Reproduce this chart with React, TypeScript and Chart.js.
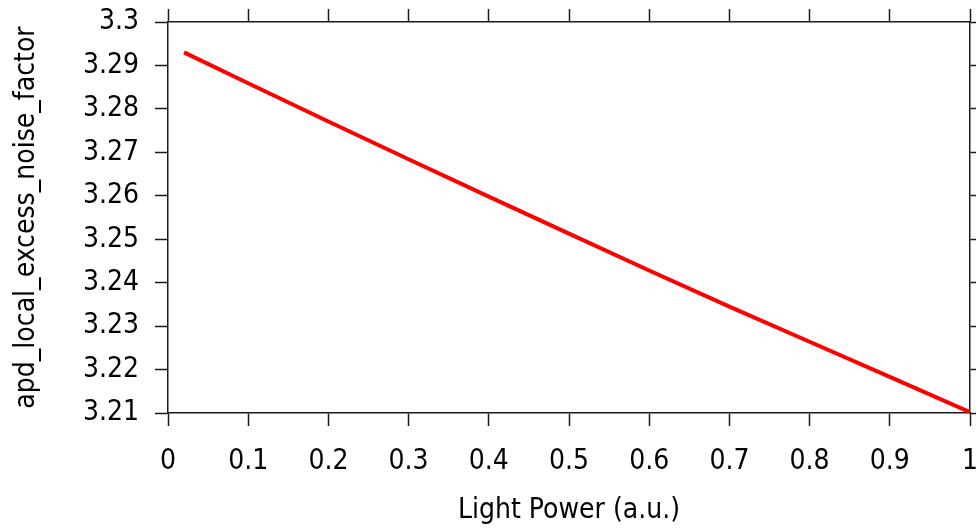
import React, { useEffect, useRef } from "react";
import { Chart, registerables } from "chart.js";

Chart.register(...registerables);

const lightPower = [0.02, 0.1, 0.2, 0.3, 0.4, 0.5, 0.6, 0.7, 0.8, 0.9, 1.0];
const noiseFactor = [3.293, 3.2859, 3.2771, 3.2684, 3.2598, 3.2513, 3.2428, 3.2345, 3.2264, 3.2183, 3.2102];

const xTickValues = [0, 0.1, 0.2, 0.3, 0.4, 0.5, 0.6, 0.7, 0.8, 0.9, 1];
const xTickLabels = ["0", "0.1", "0.2", "0.3", "0.4", "0.5", "0.6", "0.7", "0.8", "0.9", "1"];
const yTickValues = [3.21, 3.22, 3.23, 3.24, 3.25, 3.26, 3.27, 3.28, 3.29, 3.3];
const yTickLabels = ["3.21", "3.22", "3.23", "3.24", "3.25", "3.26", "3.27", "3.28", "3.29", "3.3"];

const xTitle = "Light Power (a.u.)";
const yTitle = "apd_local_excess_noise_factor";

const FONT_FAMILY = "'DejaVu Sans Condensed', 'DejaVu Sans', sans-serif";
const AXIS_COLOR = "#1a1a1a";

function labelFor(values: number[], labels: string[], v: number) {
  const i = values.findIndex((t) => Math.abs(t - v) < 1e-9);
  return i >= 0 ? labels[i] : "";
}

function noPad(s: any) {
  s.paddingLeft = 0;
  s.paddingRight = 0;
  s.paddingTop = 0;
  s.paddingBottom = 0;
}

export default function App() {
  const ref = useRef<HTMLCanvasElement | null>(null);

  useEffect(() => {
    document.body.style.margin = "0";
    const canvas = ref.current;
    if (!canvas) return;

    const grid = {
      display: true,
      drawOnChartArea: false,
      drawTicks: true,
      tickLength: 13,
      tickColor: AXIS_COLOR,
      tickWidth: 1.5,
    };
    const border = { display: true, color: AXIS_COLOR, width: 1.5 };
    const tickFont = { family: FONT_FAMILY, size: 28 };

    const chart = new Chart(canvas, {
      type: "line",
      data: {
        datasets: [
          {
            data: lightPower.map((x, i) => ({ x, y: noiseFactor[i] })),
            borderColor: "#ff0000",
            borderWidth: 4,
            pointRadius: 0,
            tension: 0,
            fill: false,
          },
        ],
      },
      options: {
        responsive: false,
        animation: false,
        layout: { padding: 0 },
        plugins: { legend: { display: false }, tooltip: { enabled: false } },
        scales: {
          x: {
            type: "linear",
            position: "bottom",
            min: 0,
            max: 1,
            afterBuildTicks: (s: any) => {
              s.ticks = xTickValues.map((value) => ({ value }));
            },
            afterFit: (s: any) => {
              s.height = 115;
              noPad(s);
            },
            ticks: {
              color: "#000",
              font: tickFont,
              padding: 19,
              maxRotation: 0,
              autoSkip: false,
              callback: (v: any) => labelFor(xTickValues, xTickLabels, Number(v)),
            },
            grid,
            border,
            title: {
              display: true,
              text: xTitle,
              color: "#000",
              font: { family: FONT_FAMILY, size: 28 },
              padding: { top: 0, bottom: 0 },
            },
          },
          x2: {
            type: "linear",
            position: "top",
            min: 0,
            max: 1,
            afterBuildTicks: (s: any) => {
              s.ticks = xTickValues.map((value) => ({ value }));
            },
            afterFit: (s: any) => {
              s.height = 22;
              noPad(s);
            },
            ticks: { display: false },
            grid,
            border,
          },
          y: {
            type: "linear",
            position: "left",
            min: 3.21,
            max: 3.3,
            afterBuildTicks: (s: any) => {
              s.ticks = yTickValues.map((value) => ({ value }));
            },
            afterFit: (s: any) => {
              s.width = 168;
              noPad(s);
            },
            ticks: {
              color: "#000",
              font: tickFont,
              padding: 16,
              autoSkip: false,
              callback: (v: any) => labelFor(yTickValues, yTickLabels, Number(v)),
            },
            grid,
            border,
            title: {
              display: true,
              text: yTitle,
              color: "#000",
              font: { family: FONT_FAMILY, size: 28 },
              padding: { top: 10, bottom: 0 },
            },
          },
          y2: {
            type: "linear",
            position: "right",
            min: 3.21,
            max: 3.3,
            afterBuildTicks: (s: any) => {
              s.ticks = yTickValues.map((value) => ({ value }));
            },
            afterFit: (s: any) => {
              s.width = 6;
              noPad(s);
            },
            ticks: { display: false },
            grid,
            border,
          },
        },
      },
    } as any);

    return () => chart.destroy();
  }, []);

  return (
    <div style={{ position: "fixed", left: 0, top: 0, width: 976, height: 528, background: "#fff" }}>
      <canvas ref={ref} width={976} height={528} style={{ display: "block" }} />
    </div>
  );
}
